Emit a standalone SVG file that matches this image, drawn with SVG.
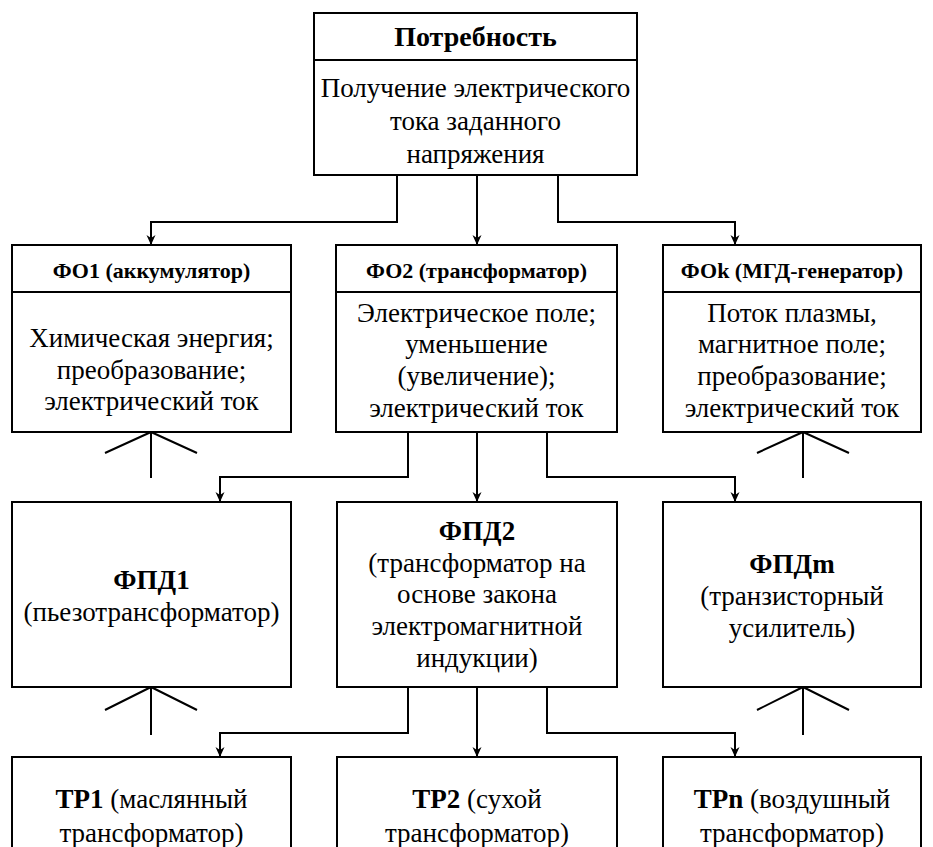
<svg xmlns="http://www.w3.org/2000/svg" width="933" height="847" viewBox="0 0 933 847">
<defs>
<marker id="arr" markerUnits="userSpaceOnUse" markerWidth="10" markerHeight="10" refX="10" refY="5" orient="auto" viewBox="0 0 10 10">
<path d="M0,0.5 L10,5 L0,9.5 L3,5 Z" fill="#000"/>
</marker>
</defs>
<rect width="933" height="847" fill="#fff"/>

<g id="connectors" stroke="#000" stroke-width="2" fill="none">
<path d="M397,176 V222 H151 V245" marker-end="url(#arr)"/>
<path d="M477,176 V245" marker-end="url(#arr)"/>
<path d="M558,176 V222 H735 V245" marker-end="url(#arr)"/>
<path d="M408,432 V477 H220 V502" marker-end="url(#arr)"/>
<path d="M477,432 V502" marker-end="url(#arr)"/>
<path d="M547,432 V477 H735 V502" marker-end="url(#arr)"/>
<path d="M408,687 V733 H220 V757" marker-end="url(#arr)"/>
<path d="M477,687 V757" marker-end="url(#arr)"/>
<path d="M547,687 V733 H735 V757" marker-end="url(#arr)"/>
<path d="M151,432 V478 M151,432 L105,453 M151,432 L197,453"/>
<path d="M803,432 V478 M803,432 L757,453 M803,432 L849,453"/>
<path d="M151,687 V735 M151,687 L105,710 M151,687 L197,710"/>
<path d="M803,687 V735 M803,687 L757,710 M803,687 L849,710"/>
</g>

<g id="need">
<rect x="314" y="13" width="323" height="162" fill="#fff" stroke="#000" stroke-width="2"/>
<line x1="314" y1="60" x2="637" y2="60" stroke="#000" stroke-width="2"/>
<text x="475.5" y="46" font-family="Liberation Serif" font-size="28" font-weight="bold" text-anchor="middle">Потребность</text>
<text x="475.5" y="97" font-family="Liberation Serif" font-size="27" text-anchor="middle">Получение электрического</text>
<text x="475.5" y="130" font-family="Liberation Serif" font-size="27" text-anchor="middle">тока заданного</text>
<text x="475.5" y="163" font-family="Liberation Serif" font-size="27" text-anchor="middle">напряжения</text>
</g>

<g id="fo1">
<rect x="12" y="245" width="279" height="187" fill="#fff" stroke="#000" stroke-width="2"/>
<line x1="12" y1="292" x2="291" y2="292" stroke="#000" stroke-width="2"/>
<text x="151.5" y="278" font-family="Liberation Serif" font-size="22" font-weight="bold" text-anchor="middle">ФО1 (аккумулятор)</text>
<text x="151.5" y="347" font-family="Liberation Serif" font-size="27" text-anchor="middle">Химическая энергия;</text>
<text x="151.5" y="379" font-family="Liberation Serif" font-size="27" text-anchor="middle">преобразование;</text>
<text x="151.5" y="410" font-family="Liberation Serif" font-size="27" text-anchor="middle">электрический ток</text>
</g>

<g id="fo2">
<rect x="336" y="245" width="281" height="187" fill="#fff" stroke="#000" stroke-width="2"/>
<line x1="336" y1="292" x2="617" y2="292" stroke="#000" stroke-width="2"/>
<text x="476.5" y="278" font-family="Liberation Serif" font-size="22" font-weight="bold" text-anchor="middle">ФО2 (трансформатор)</text>
<text x="476.5" y="322" font-family="Liberation Serif" font-size="27" text-anchor="middle">Электрическое поле;</text>
<text x="476.5" y="353" font-family="Liberation Serif" font-size="27" text-anchor="middle">уменьшение</text>
<text x="476.5" y="385" font-family="Liberation Serif" font-size="27" text-anchor="middle">(увеличение);</text>
<text x="476.5" y="417" font-family="Liberation Serif" font-size="27" text-anchor="middle">электрический ток</text>
</g>

<g id="fok">
<rect x="663" y="245" width="258" height="187" fill="#fff" stroke="#000" stroke-width="2"/>
<line x1="663" y1="292" x2="921" y2="292" stroke="#000" stroke-width="2"/>
<text x="792" y="278" font-family="Liberation Serif" font-size="22" font-weight="bold" text-anchor="middle">ФОk (МГД-генератор)</text>
<text x="792" y="322" font-family="Liberation Serif" font-size="27" text-anchor="middle">Поток плазмы,</text>
<text x="792" y="353" font-family="Liberation Serif" font-size="27" text-anchor="middle">магнитное поле;</text>
<text x="792" y="385" font-family="Liberation Serif" font-size="27" text-anchor="middle">преобразование;</text>
<text x="792" y="417" font-family="Liberation Serif" font-size="27" text-anchor="middle">электрический ток</text>
</g>

<g id="fpd1">
<rect x="12" y="502" width="279" height="185" fill="#fff" stroke="#000" stroke-width="2"/>
<text x="151.5" y="589" font-family="Liberation Serif" font-size="27" font-weight="bold" text-anchor="middle">ФПД1</text>
<text x="151.5" y="621" font-family="Liberation Serif" font-size="27" text-anchor="middle">(пьезотрансформатор)</text>
</g>

<g id="fpd2">
<rect x="337" y="502" width="280" height="185" fill="#fff" stroke="#000" stroke-width="2"/>
<text x="477" y="540" font-family="Liberation Serif" font-size="27" font-weight="bold" text-anchor="middle">ФПД2</text>
<text x="477" y="572" font-family="Liberation Serif" font-size="27" text-anchor="middle">(трансформатор на</text>
<text x="477" y="603" font-family="Liberation Serif" font-size="27" text-anchor="middle">основе закона</text>
<text x="477" y="635" font-family="Liberation Serif" font-size="27" text-anchor="middle">электромагнитной</text>
<text x="477" y="667" font-family="Liberation Serif" font-size="27" text-anchor="middle">индукции)</text>
</g>

<g id="fpdm">
<rect x="663" y="502" width="258" height="185" fill="#fff" stroke="#000" stroke-width="2"/>
<text x="792" y="573" font-family="Liberation Serif" font-size="27" font-weight="bold" text-anchor="middle">ФПДm</text>
<text x="792" y="605" font-family="Liberation Serif" font-size="27" text-anchor="middle">(транзисторный</text>
<text x="792" y="637" font-family="Liberation Serif" font-size="27" text-anchor="middle">усилитель)</text>
</g>

<g id="tr1">
<rect x="12" y="757" width="279" height="110" fill="#fff" stroke="#000" stroke-width="2"/>
<text x="151.5" y="808" font-family="Liberation Serif" font-size="27" text-anchor="middle"><tspan font-weight="bold">ТР1</tspan> (маслянный</text>
<text x="151.5" y="842" font-family="Liberation Serif" font-size="27" text-anchor="middle">трансформатор)</text>
</g>

<g id="tr2">
<rect x="337" y="757" width="280" height="110" fill="#fff" stroke="#000" stroke-width="2"/>
<text x="477" y="808" font-family="Liberation Serif" font-size="27" text-anchor="middle"><tspan font-weight="bold">ТР2</tspan> (сухой</text>
<text x="477" y="842" font-family="Liberation Serif" font-size="27" text-anchor="middle">трансформатор)</text>
</g>

<g id="trn">
<rect x="663" y="757" width="258" height="110" fill="#fff" stroke="#000" stroke-width="2"/>
<text x="792" y="808" font-family="Liberation Serif" font-size="27" text-anchor="middle"><tspan font-weight="bold">ТРn</tspan> (воздушный</text>
<text x="792" y="842" font-family="Liberation Serif" font-size="27" text-anchor="middle">трансформатор)</text>
</g>
</svg>
